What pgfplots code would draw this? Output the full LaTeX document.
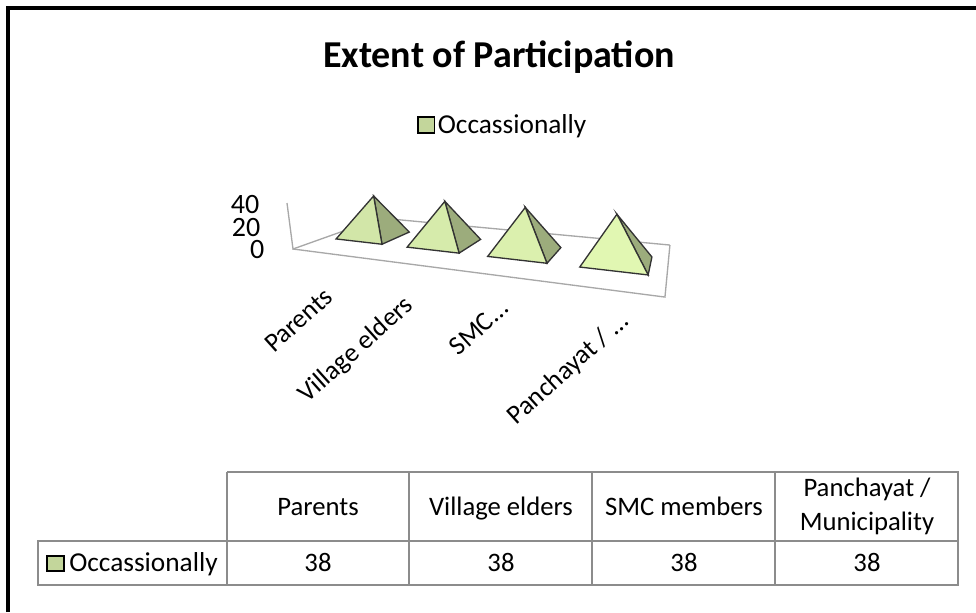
\documentclass[border=0pt]{standalone}
\usepackage{fontspec}
\setmainfont{Carlito}
\usepackage{pgfplots}
\pgfplotsset{compat=1.18}

% floor is a unit square seen in perspective: s along categories, t in depth, z the value
\newcommand\PW[2]{(1-0.2547*(#1)+0.2872*(#2))}
\newcommand\PU[3]{((202.6*(#1)+196.1*(#2)+293+(#3)*(-0.15+0.3*(#2)))/\PW{#1}{#2})}
\newcommand\PV[3]{((-27.6*(#1)+31.6*(#2)+249-1.15*(#3))/\PW{#1}{#2})}

\definecolor{legendgreen}{HTML}{C3D69B}
\definecolor{sidegreen}{HTML}{9CAC7C}
\definecolor{gridgray}{HTML}{A8A8A8}
\definecolor{tablegray}{HTML}{8C8C8C}
\definecolor{frontA}{HTML}{D2E6A8}
\definecolor{frontB}{HTML}{D6EBAB}
\definecolor{frontC}{HTML}{DBF0AE}
\definecolor{frontD}{HTML}{E1F7B2}

% #1 category centre, #2 value, #3 front face colour
\newcommand\pyramid[3]{%
  \addplot[forget plot,fill=sidegreen,draw=black!80,line width=1pt]
    table[x expr={\PU{#1+\thisrow{ds}}{\thisrow{t}}{#2*\thisrow{z}}},
          y expr={\PV{#1+\thisrow{ds}}{\thisrow{t}}{#2*\thisrow{z}}},row sep=\\]
    {ds t z\\ 0.0825 0.31 0\\ 0.0825 0.67 0\\ 0 0.49 1\\} --cycle;
  \addplot[forget plot,fill=#3,draw=black!80,line width=1pt]
    table[x expr={\PU{#1+\thisrow{ds}}{\thisrow{t}}{#2*\thisrow{z}}},
          y expr={\PV{#1+\thisrow{ds}}{\thisrow{t}}{#2*\thisrow{z}}},row sep=\\]
    {ds t z\\ -0.0825 0.31 0\\ 0.0825 0.31 0\\ 0 0.49 1\\} --cycle;
}
% #1 points of a grey floor or axis line
\newcommand\floorline[1]{%
  \addplot[forget plot,gridgray,line width=1pt]
    table[x expr={\PU{\thisrow{s}}{\thisrow{t}}{\thisrow{z}}},
          y expr={\PV{\thisrow{s}}{\thisrow{t}}{\thisrow{z}}},row sep=\\] {#1};
}
\newcommand\catlabel[3]{%
  \node[anchor=north east,rotate=42,inner sep=0pt,font=\fontsize{20}{24}\selectfont] at (axis cs:#1,#2) {#3};
}
\newcommand\ticklabel[2]{%
  \node[anchor=east,font=\fontsize{21}{24}\selectfont] at (axis cs:#1) {#2};
}
\newcommand\cell[3]{%
  \node[anchor=base,font=\fontsize{20}{23}\selectfont] at (axis cs:#1,#2) {#3};
}

\begin{document}
\begin{tikzpicture}
\begin{axis}[
  name=chart,
  width=732pt, height=459pt, scale only axis,
  xmin=0, xmax=976, ymin=0, ymax=612, y dir=reverse,
  hide axis, clip=false,
  legend style={at={(axis cs:503,125)},anchor=center,draw=none,fill=none,
    font=\fontsize{20.5}{24}\selectfont,inner sep=0pt,
    /tikz/every even column/.append style={column sep=5pt}},
]
% chart frame of the screenshot
\draw[black,line width=3pt] (axis cs:8,612) -- (axis cs:8,7.5) -- (axis cs:976,7.5);

\node[font=\bfseries\fontsize{28.5}{32}\selectfont] at (axis cs:499,57) {Extent of Participation};

% floor and value axis
\floorline{s t z\\ 0 1 0\\ 1 1 0\\}
\floorline{s t z\\ 0 0 40\\ 0 0 0\\ 0 1 0\\}
\floorline{s t z\\ 0 0 0\\ 1 0 0\\ 1 1 0\\}

\addlegendimage{legend image code/.code={
  \draw[fill=legendgreen,draw=black,line width=1.2pt] (0pt,-6pt) rectangle (12.5pt,6pt);}}
\addlegendentry{Occassionally}

\pyramid{0.125}{38}{frontA}
\pyramid{0.375}{38}{frontB}
\pyramid{0.625}{38}{frontC}
\pyramid{0.875}{38}{frontD}

\ticklabel{264,205}{40}
\ticklabel{265,228}{20}
\ticklabel{269,250}{0}

\catlabel{323}{286}{Parents}
\catlabel{402}{293}{Village elders}
\catlabel{499}{297}{SMC...}
\catlabel{618}{309}{Panchayat / ...}

% data table under the chart
\draw[tablegray,line width=1.8pt]
  (axis cs:227,472) -- (axis cs:958,472) -- (axis cs:958,585) -- (axis cs:38,585)
  -- (axis cs:38,541) -- (axis cs:958,541)
  (axis cs:227,472) -- (axis cs:227,585)
  (axis cs:409,472) -- (axis cs:409,585)
  (axis cs:592,472) -- (axis cs:592,585)
  (axis cs:775,472) -- (axis cs:775,585);
\draw[fill=legendgreen,draw=black,line width=1.5pt] (axis cs:47,556) rectangle (axis cs:64,571);
\node[anchor=base west,font=\fontsize{20.5}{23}\selectfont,inner sep=0pt] at (axis cs:69,571) {Occassionally};
\cell{318}{515}{Parents}
\cell{501}{515}{Village elders}
\cell{684}{515}{SMC members}
\cell{867}{496}{Panchayat /}
\cell{867}{530}{Municipality}
\cell{318}{571}{38}
\cell{501}{571}{38}
\cell{684}{571}{38}
\cell{867}{571}{38}
\end{axis}
\pgfresetboundingbox
\path[use as bounding box] (chart.south west) rectangle (chart.north east);
\end{tikzpicture}
\end{document}
